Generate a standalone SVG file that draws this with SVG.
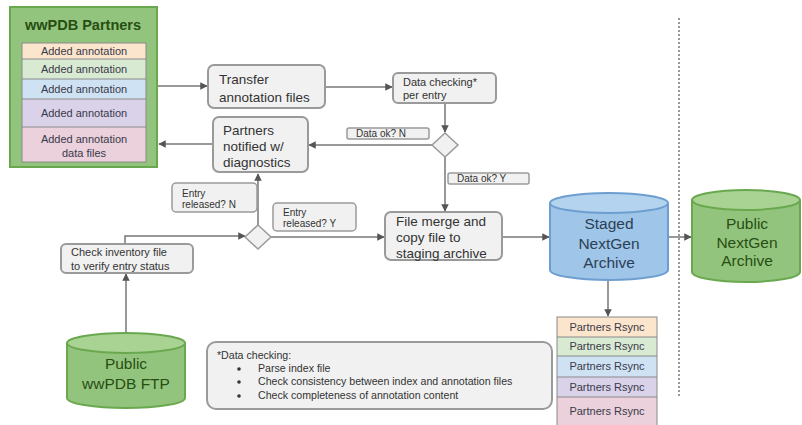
<svg xmlns="http://www.w3.org/2000/svg" width="802" height="425" viewBox="0 0 802 425">
  <defs>
    <marker id="arr" viewBox="0 0 10 10" refX="9" refY="5" markerWidth="5" markerHeight="5" orient="auto-start-reverse">
      <path d="M0,0 L10,5 L0,10 z" fill="#555"/>
    </marker>
    <style>
      .box { fill: #f1f1f1; stroke: #9a9a9a; stroke-width: 2; }
      .lbl { fill: #f1f1f1; stroke: #9a9a9a; stroke-width: 1.5; }
      .t { font-family: "Liberation Sans", Arial, sans-serif; fill: #333; }
      .big { font-size: 13.5px; }
      .sm { font-size: 11px; }
      .xs { font-size: 10px; }
      .nt { font-size: 10.6px; }
      .cyl { font-size: 15.5px; text-anchor: middle; }
      .ln { fill: none; stroke: #777; stroke-width: 1.5; }
      .row { stroke: #8a8a8a; stroke-width: 1; }
      .ann { font-family: "Liberation Sans", Arial, sans-serif; font-size: 11px; fill: #3a3a4a; text-anchor: middle; }
    </style>
  </defs>
  <rect width="802" height="425" fill="#ffffff"/>

  <!-- dotted divider -->
  <line x1="679" y1="18" x2="679" y2="398" stroke="#999" stroke-width="2" stroke-dasharray="2,2"/>

  <g id="connectors">
    <line class="ln" x1="157" y1="86" x2="207" y2="86" marker-end="url(#arr)"/>
    <line class="ln" x1="325" y1="87" x2="392" y2="87" marker-end="url(#arr)"/>
    <line class="ln" x1="445" y1="103" x2="445" y2="132" marker-end="url(#arr)"/>
    <line class="ln" x1="433" y1="145" x2="309" y2="145" marker-end="url(#arr)"/>
    <line class="ln" x1="213" y1="144" x2="159" y2="144" marker-end="url(#arr)"/>
    <line class="ln" x1="445" y1="157" x2="445" y2="211" marker-end="url(#arr)"/>
    <line class="ln" x1="258" y1="225" x2="258" y2="174" marker-end="url(#arr)"/>
    <line class="ln" x1="270" y1="237" x2="384" y2="237" marker-end="url(#arr)"/>
    <polyline class="ln" points="125,244 125,236 245,236" marker-end="url(#arr)"/>
    <line class="ln" x1="126" y1="333" x2="126" y2="274" marker-end="url(#arr)"/>
    <line class="ln" x1="502" y1="237" x2="549" y2="237" marker-end="url(#arr)"/>
    <line class="ln" x1="668" y1="237" x2="691" y2="237" marker-end="url(#arr)"/>
    <line class="ln" x1="608" y1="280" x2="608" y2="316" marker-end="url(#arr)"/>
  </g>

  <g id="wwpdb-partners">
    <rect x="10" y="7" width="147" height="160" fill="#93c47d" stroke="#6aa84f" stroke-width="2"/>
    <text x="83" y="30" font-family="Liberation Sans, Arial, sans-serif" font-size="14.5" font-weight="bold" fill="#274e13" text-anchor="middle">wwPDB Partners</text>
    <rect x="22" y="43" width="124" height="16" fill="#fce5cd"/>
    <rect x="22" y="59" width="124" height="20" fill="#d9ead3"/>
    <rect x="22" y="79" width="124" height="20" fill="#cfe2f3"/>
    <rect x="22" y="99" width="124" height="28" fill="#d9d2e9"/>
    <rect x="22" y="127" width="124" height="35" fill="#ead1dc"/>
    <rect x="22" y="43" width="124" height="119" fill="none" stroke="#8a8a8a" stroke-width="1"/>
    <line class="row" x1="22" y1="59" x2="146" y2="59"/>
    <line class="row" x1="22" y1="79" x2="146" y2="79"/>
    <line class="row" x1="22" y1="99" x2="146" y2="99"/>
    <line class="row" x1="22" y1="127" x2="146" y2="127"/>
    <text class="ann" x="84" y="55">Added annotation</text>
    <text class="ann" x="84" y="73">Added annotation</text>
    <text class="ann" x="84" y="93">Added annotation</text>
    <text class="ann" x="84" y="117">Added annotation</text>
    <text class="ann" x="84" y="143">Added annotation</text>
    <text class="ann" x="84" y="157">data files</text>
  </g>

  <g id="transfer">
    <rect class="box" x="208" y="65" width="117" height="43" rx="6"/>
    <text class="t big" x="219" y="84">Transfer</text>
    <text class="t big" x="219" y="102">annotation files</text>
  </g>

  <g id="data-checking">
    <rect class="box" x="393" y="73" width="103" height="30" rx="5"/>
    <text class="t sm" x="403" y="86">Data checking*</text>
    <text class="t sm" x="403" y="99">per entry</text>
  </g>

  <g id="diamond-data">
    <polygon points="445,133 458,145 445,157 432,145" fill="#f1f1f1" stroke="#9a9a9a" stroke-width="1.5"/>
  </g>

  <g id="label-data-n">
    <rect class="lbl" x="347" y="128" width="82" height="11" rx="2"/>
    <text class="t xs" x="356" y="137">Data ok? N</text>
  </g>

  <g id="label-data-y">
    <rect class="lbl" x="448" y="173" width="81" height="11" rx="2"/>
    <text class="t xs" x="457" y="182">Data ok? Y</text>
  </g>

  <g id="partners-notified">
    <rect class="box" x="213" y="117" width="95" height="55" rx="6"/>
    <text class="t big" x="223" y="135">Partners</text>
    <text class="t big" x="223" y="151">notified w/</text>
    <text class="t big" x="223" y="167">diagnostics</text>
  </g>

  <g id="label-entry-n">
    <rect class="lbl" x="172" y="183" width="85" height="29" rx="4"/>
    <text class="t xs" x="182" y="197">Entry</text>
    <text class="t xs" x="182" y="208">released? N</text>
  </g>

  <g id="label-entry-y">
    <rect class="lbl" x="273" y="203" width="83" height="28" rx="4"/>
    <text class="t xs" x="283" y="216">Entry</text>
    <text class="t xs" x="283" y="227">released? Y</text>
  </g>

  <g id="diamond-entry">
    <polygon points="258,225 271,237 258,249 245,237" fill="#f1f1f1" stroke="#9a9a9a" stroke-width="1.5"/>
  </g>

  <g id="check-inventory">
    <rect class="box" x="61" y="244" width="132" height="29" rx="5"/>
    <text class="t sm" x="71" y="256">Check inventory file</text>
    <text class="t sm" x="71" y="270">to verify entry status</text>
  </g>

  <g id="file-merge">
    <rect class="box" x="385" y="212" width="117" height="48" rx="6"/>
    <text class="t big" x="396" y="226">File merge and</text>
    <text class="t big" x="396" y="242">copy file to</text>
    <text class="t big" x="396" y="258">staging archive</text>
  </g>

  <g id="staged-archive">
    <path d="M550,203 L550,270 A59,10 0 0 0 668,270 L668,203" fill="#9fc5e8" stroke="#6d9ecf" stroke-width="2"/>
    <ellipse cx="609" cy="203" rx="59" ry="10" fill="#b4d3ef" stroke="#6d9ecf" stroke-width="2"/>
    <text class="t cyl" x="609" y="229" style="fill:#2b3f55">Staged</text>
    <text class="t cyl" x="609" y="249" style="fill:#2b3f55">NextGen</text>
    <text class="t cyl" x="609" y="268" style="fill:#2b3f55">Archive</text>
  </g>

  <g id="public-nextgen">
    <path d="M692,200 L692,272 A54,10 0 0 0 800,272 L800,200" fill="#93c47d" stroke="#6aa84f" stroke-width="2"/>
    <ellipse cx="746" cy="200" rx="54" ry="10" fill="#a8d393" stroke="#6aa84f" stroke-width="2"/>
    <text class="t cyl" x="747" y="229" style="fill:#274e13">Public</text>
    <text class="t cyl" x="747" y="248" style="fill:#274e13">NextGen</text>
    <text class="t cyl" x="747" y="266" style="fill:#274e13">Archive</text>
  </g>

  <g id="public-ftp">
    <path d="M67,343 L67,398 A59,10 0 0 0 185,398 L185,343" fill="#93c47d" stroke="#6aa84f" stroke-width="2"/>
    <ellipse cx="126" cy="343" rx="59" ry="10" fill="#a8d393" stroke="#6aa84f" stroke-width="2"/>
    <text class="t cyl" x="126" y="369" style="fill:#274e13">Public</text>
    <text class="t cyl" x="126" y="389" style="fill:#274e13">wwPDB FTP</text>
  </g>

  <g id="note">
    <rect class="box" x="207" y="342" width="345" height="67" rx="9"/>
    <text class="t nt" x="217" y="359">*Data checking:</text>
    <circle cx="239" cy="369" r="1.8" fill="#333"/>
    <circle cx="239" cy="382" r="1.8" fill="#333"/>
    <circle cx="239" cy="396" r="1.8" fill="#333"/>
    <text class="t nt" x="258" y="372">Parse index file</text>
    <text class="t nt" x="258" y="385">Check consistency between index and annotation files</text>
    <text class="t nt" x="258" y="399">Check completeness of annotation content</text>
  </g>

  <g id="partners-rsync">
    <rect x="557" y="317" width="100" height="20" fill="#fce5cd"/>
    <rect x="557" y="337" width="100" height="19" fill="#d9ead3"/>
    <rect x="557" y="356" width="100" height="21" fill="#cfe2f3"/>
    <rect x="557" y="377" width="100" height="20" fill="#d9d2e9"/>
    <rect x="557" y="397" width="100" height="28" fill="#ead1dc"/>
    <rect x="557" y="317" width="100" height="110" fill="none" stroke="#8a8a8a" stroke-width="1"/>
    <line class="row" x1="557" y1="337" x2="657" y2="337"/>
    <line class="row" x1="557" y1="356" x2="657" y2="356"/>
    <line class="row" x1="557" y1="377" x2="657" y2="377"/>
    <line class="row" x1="557" y1="397" x2="657" y2="397"/>
    <text class="ann" x="607" y="331">Partners Rsync</text>
    <text class="ann" x="607" y="350">Partners Rsync</text>
    <text class="ann" x="607" y="370">Partners Rsync</text>
    <text class="ann" x="607" y="391">Partners Rsync</text>
    <text class="ann" x="607" y="415">Partners Rsync</text>
  </g>
</svg>
